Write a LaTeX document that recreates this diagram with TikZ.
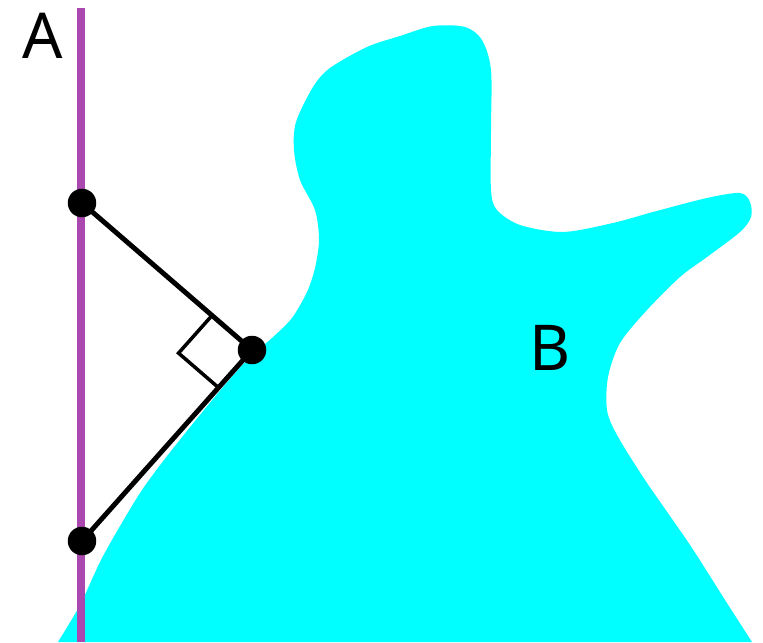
\documentclass[tikz,border=0pt]{standalone}
\usepackage{fontspec}
\setmainfont{Noto Sans}
\usepackage{xcolor}
\usetikzlibrary{calc}
\definecolor{blobcyan}{RGB}{0,255,255}
\definecolor{linepurple}{RGB}{170,72,176}

\begin{document}
\begin{tikzpicture}[x=0.02cm,y=-0.02cm,
  dot/.style={circle,fill=black,inner sep=0pt,minimum size=0.57cm},
  seg/.style={line width=2.8pt,black},
  lab/.style={font=\fontsize{36}{40}\selectfont,inner sep=0pt}]
\useasboundingbox (0,0) rectangle (763,642);
% region B
\fill[blobcyan] plot[smooth,tension=0.5] coordinates {
  (58,642) (80,605) (101,560) (123,521) (142,490) (164,460) (195,421)
  (224,386) (250,357)
  (272,338) (292,318) (307,292) (315,268) (319,240) (315,210) (300,180)
  (294,150) (296,122) (313,87) (330,68) (367,47) (400,36) (433,26)
  (465,27) (482,40) (491,70) (491,130) (491,190) (497,210) (520,225)
  (563,232) (613,223) (653,212) (707,198) (740,193) (750,202) (751,217)
  (740,232) (707,257) (680,277) (647,310) (620,343) (608,377) (607,410)
  (617,435) (645,480) (690,545) (725,600) (752,642)} -- cycle;
% line A
\coordinate (atop) at (81,8);
\coordinate (abot) at (81,642);
\draw[linepurple,line width=4.5pt] (atop) -- (abot);
\node[lab] (labA) at (43,36) {A};
\node[lab] (labB) at (550,348) {B};
% foot points
\node[dot] (p1) at (82,203) {};
\node[dot] (p2) at (252,350) {};
\node[dot] (p3) at (82,541) {};
\draw[seg] (p1.center) -- (p2.center);
\draw[seg] (p3.center) -- (p2.center);
% right angle mark
\coordinate (r1) at ($(p2.center)!0.235!(p1.center)$);
\coordinate (r2) at ($(p2.center)!0.197!(p3.center)$);
\draw[line width=2pt] (r1) -- ($(r1)+(r2)-(p2.center)$) -- (r2);
\end{tikzpicture}
\end{document}
